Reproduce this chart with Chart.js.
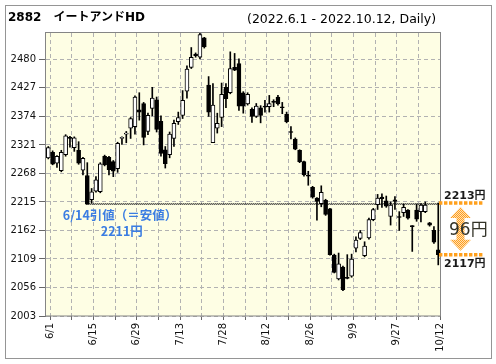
<!DOCTYPE html>
<html><head><meta charset="utf-8">
<script src="https://cdn.jsdelivr.net/npm/chart.js@4"></script>
<style>
html,body{margin:0;padding:0;background:#fff;}
#wrap{position:relative;width:496px;height:364px;overflow:hidden;}
canvas{position:absolute;left:0;top:0;}
.t{position:absolute;white-space:nowrap;color:#000;}
#t1{left:8px;top:9.5px;font:bold 12px "DejaVu Sans","Noto Sans CJK JP",sans-serif;line-height:14px;}
#t2{left:247px;top:11px;font:12.5px "DejaVu Sans",sans-serif;line-height:15px;}
</style></head>
<body><div id="wrap"><canvas id="c" width="496" height="364"></canvas>
<div class="t" id="t1">2882　イートアンドHD</div>
<div class="t" id="t2">(2022.6.1 - 2022.10.12, Daily)</div></div>
<script>
const dates = ["6/1","6/2","6/3","6/6","6/7","6/8","6/9","6/10","6/13","6/14","6/15","6/16","6/17","6/20","6/21","6/22","6/23","6/24","6/27","6/28","6/29","6/30",
"7/1","7/4","7/5","7/6","7/7","7/8","7/11","7/12","7/13","7/14","7/15","7/19","7/20","7/21","7/22","7/25","7/26","7/27","7/28","7/29",
"8/1","8/2","8/3","8/4","8/5","8/8","8/9","8/10","8/12","8/15","8/16","8/17","8/18","8/19","8/22","8/23","8/24","8/25","8/26","8/29","8/30","8/31",
"9/1","9/2","9/5","9/6","9/7","9/8","9/9","9/12","9/13","9/14","9/15","9/16","9/20","9/21","9/22","9/26","9/27","9/28","9/29","9/30",
"10/3","10/4","10/5","10/6","10/7","10/11","10/12"];
const opens  = [2297,2307,2287,2273,2303,2335,2316,2311,2274,2264,2219,2235,2234,2300,2298,2290,2277,2333,2341,2352,2355,2386,
2398,2346,2389,2405,2365,2312,2303,2333,2364,2376,2421,2465,2490,2484,2520,2432,2325,2352,2372,2428,
2418,2465,2472,2418,2397,2387,2374,2390,2393,2392,2402,2410,2392,2378,2346,2332,2311,2290,2265,2242,2222,2212,
2218,2202,2116,2072,2094,2075,2077,2129,2147,2115,2148,2182,2210,2224,2217,2188,2219,2188,2195,2200,
2171,2200,2197,2197,2176,2162,2126];
const highs  = [2318,2310,2301,2311,2340,2337,2336,2327,2298,2288,2240,2262,2288,2302,2300,2292,2326,2336,2346,2372,2412,2418,
2400,2380,2428,2410,2375,2318,2345,2367,2382,2422,2468,2502,2492,2529,2521,2448,2435,2380,2436,2435,
2494,2491,2481,2420,2418,2390,2398,2394,2404,2413,2405,2413,2400,2382,2355,2334,2312,2291,2272,2244,2223,2245,
2220,2203,2118,2120,2096,2117,2118,2150,2162,2141,2185,2203,2229,2230,2226,2215,2225,2197,2211,2201,
2171,2211,2212,2215,2177,2169,2213];
const lows   = [2295,2284,2279,2271,2300,2317,2309,2285,2265,2211,2213,2233,2232,2282,2265,2262,2270,2322,2325,2333,2341,2367,
2321,2340,2375,2345,2300,2278,2297,2318,2359,2370,2408,2463,2484,2481,2501,2374,2325,2343,2355,2390,
2416,2459,2385,2380,2395,2363,2372,2362,2382,2382,2392,2395,2379,2362,2332,2312,2288,2263,2246,2222,2181,2206,
2190,2116,2083,2070,2050,2072,2075,2122,2145,2113,2146,2180,2201,2205,2205,2172,2201,2162,2188,2183,
2123,2179,2178,2195,2170,2138,2098];
const closes = [2316,2285,2300,2307,2338,2333,2334,2287,2296,2211,2234,2256,2286,2284,2275,2272,2324,2335,2343,2370,2410,2382,
2335,2376,2408,2350,2305,2286,2341,2361,2372,2404,2462,2484,2487,2526,2503,2382,2395,2361,2415,2407,
2463,2460,2393,2393,2415,2374,2393,2376,2391,2398,2400,2397,2390,2364,2344,2313,2290,2265,2263,2224,2216,2233,
2192,2117,2084,2100,2052,2073,2109,2144,2158,2133,2182,2201,2222,2221,2207,2209,2216,2186,2205,2185,
2169,2183,2209,2209,2172,2140,2117];
const yTicks = [2003,2056,2109,2162,2215,2268,2321,2374,2427,2480];
const yMin = 2003, yMax = 2529;
const markDay = 9, markPrice = 2211;       // 6/14 close (= low)
const lastHigh = 2213, lastClose = 2117;   // last-day markers

const tickShift = 0.4;
const gridDays = dates.map((d,i)=>i).filter(i=>i%5===0);

const wickData = dates.map((d,i)=>({x:i, y:[lows[i], highs[i]]}));
const bodyData = dates.map((d,i)=>({x:i, y:[opens[i], closes[i]]}));
const bodyFill = dates.map((d,i)=> closes[i] > opens[i] ? '#ffffff' : '#000000');

const deco = {
  id:'deco',
  beforeDraw(chart){
    const {ctx, chartArea:a} = chart;
    ctx.save();
    ctx.fillStyle='#ffffff'; ctx.fillRect(0,0,chart.width,chart.height);
    ctx.fillStyle='#fefee4'; ctx.fillRect(a.left,a.top,a.right-a.left,a.bottom-a.top);
    ctx.restore();
  },
  beforeDatasetsDraw(chart){
    const {ctx, chartArea:a, scales:{x:xs,y:ys}} = chart;
    const yM = Math.round(ys.getPixelForValue(markPrice))-0.5;
    const xM = xs.getPixelForValue(markDay);
    ctx.save();
    ctx.strokeStyle='#222'; ctx.lineWidth=1; ctx.setLineDash([1,1]);
    ctx.beginPath(); ctx.moveTo(xM-2,yM); ctx.lineTo(a.right,yM); ctx.stroke();
    ctx.lineDashOffset = 1;
    ctx.beginPath(); ctx.moveTo(xM-2,yM+1); ctx.lineTo(a.right,yM+1); ctx.stroke();
    ctx.restore();
  },
  afterDraw(chart){
    const {ctx, chartArea:a, scales:{x:xs,y:ys}} = chart;
    ctx.save();
    ctx.strokeStyle='#858585'; ctx.lineWidth=1; ctx.setLineDash([]);
    ctx.strokeRect(a.left-0.5, a.top-0.5, a.right-a.left+1, a.bottom-a.top+0.5);
    ctx.strokeStyle='#959595';
    ctx.strokeRect(5.5,5.5,486,353);
    const yM = ys.getPixelForValue(markPrice);
    const xM = xs.getPixelForValue(markDay);
    ctx.fillStyle='#3b7de2';
    ctx.font='bold 12.5px "Noto Sans CJK JP", sans-serif';
    ctx.textBaseline='alphabetic'; ctx.textAlign='left';
    ctx.fillText(dates[markDay]+'引値（＝安値）', xM-24.5, yM+16);
    ctx.fillText(markPrice+'円', xM+13.5, yM+31.5);
    const yH = ys.getPixelForValue(lastHigh), yC = ys.getPixelForValue(lastClose);
    const x0 = a.right;
    const pc = document.createElement('canvas'); pc.width=2; pc.height=2;
    const p = pc.getContext('2d'); p.fillStyle='#ffa01c'; p.fillRect(0,0,1,1); p.fillRect(1,1,1,1);
    p.fillStyle='rgba(255,190,110,0.5)'; p.fillRect(1,0,1,1); p.fillRect(0,1,1,1);
    const pat = ctx.createPattern(pc,'repeat');
    const cx = x0+20.5, top = yH+4, bot = yC-4, hh = 11, hw = 10.5, sw = 4;
    ctx.fillStyle = pat;
    ctx.beginPath();
    ctx.moveTo(cx, top); ctx.lineTo(cx+hw, top+hh); ctx.lineTo(cx+sw, top+hh);
    ctx.lineTo(cx+sw, bot-hh); ctx.lineTo(cx+hw, bot-hh); ctx.lineTo(cx, bot);
    ctx.lineTo(cx-hw, bot-hh); ctx.lineTo(cx-sw, bot-hh); ctx.lineTo(cx-sw, top+hh);
    ctx.lineTo(cx-hw, top+hh); ctx.closePath(); ctx.fill();
    ctx.strokeStyle='#ffa01c'; ctx.lineWidth=3.5; ctx.setLineDash([3.4,1.6]);
    [yH,yC].forEach(v=>{ ctx.beginPath(); ctx.moveTo(x0-1, v); ctx.lineTo(x0+44, v); ctx.stroke(); });
    ctx.setLineDash([]);
    ctx.fillStyle='#1a1a1a';
    ctx.font='bold 11px "DejaVu Sans","Noto Sans CJK JP", sans-serif';
    ctx.fillText(lastHigh+'円', x0+4, yH-4.5);
    ctx.fillText(lastClose+'円', x0+4, yC+12.5);
    ctx.fillStyle='#333328';
    ctx.font='17px "DejaVu Sans","Noto Sans CJK JP", sans-serif';
    ctx.fillText((lastHigh-lastClose)+'円', x0+9, (yH+yC)/2+6.5);
    ctx.restore();
  }
};

new Chart(document.getElementById('c'), {
  type:'bar',
  data:{ datasets:[
    { data: wickData, backgroundColor:'#000', borderWidth:0, barThickness:1, grouped:false, order:1 },
    { data: bodyData, backgroundColor: bodyFill, borderColor:'#000', borderWidth:1, borderSkipped:false, barThickness:4, grouped:false, order:0 }
  ]},
  options:{
    responsive:false, animation:false, devicePixelRatio:1,
    layout:{ padding:{ left:6, right:56, top:33, bottom:8 } },
    plugins:{ legend:{display:false}, tooltip:{enabled:false}, title:{display:false} },
    scales:{
      x:{ type:'linear', min:-0.53, max:90.4, offset:false,
        afterBuildTicks:(s)=>{ s.ticks = gridDays.map(i=>({value:i+tickShift})); },
        afterFit:(s)=>{ s.height = 40; },
        ticks:{ autoSkip:false, minRotation:90, maxRotation:90, padding:3, color:'#111',
          font:{ family:'DejaVu Sans', size:10 },
          callback:(v)=>{ const i = Math.round(v-tickShift); return i%10===0 ? dates[i] : ''; } },
        grid:{ offset:false, color:'#b2b2b2', tickColor:'#666', tickLength:4, tickBorderDash:[] },
        border:{ display:false, dash:[4,3] }
      },
      y:{ type:'linear', min:yMin, max:yMax,
        afterBuildTicks:(s)=>{ s.ticks = yTicks.map(v=>({value:v})); },
        afterFit:(s)=>{ s.width = 40; },
        ticks:{ padding:3, color:'#111', font:{ family:'DejaVu Sans', size:10 }, callback:(v)=>String(v) },
        grid:{ color:'#b2b2b2', tickColor:'#666', tickLength:7, tickBorderDash:[] },
        border:{ display:false, dash:[4,3] }
      }
    }
  },
  plugins:[deco]
});
</script>
</body></html>
